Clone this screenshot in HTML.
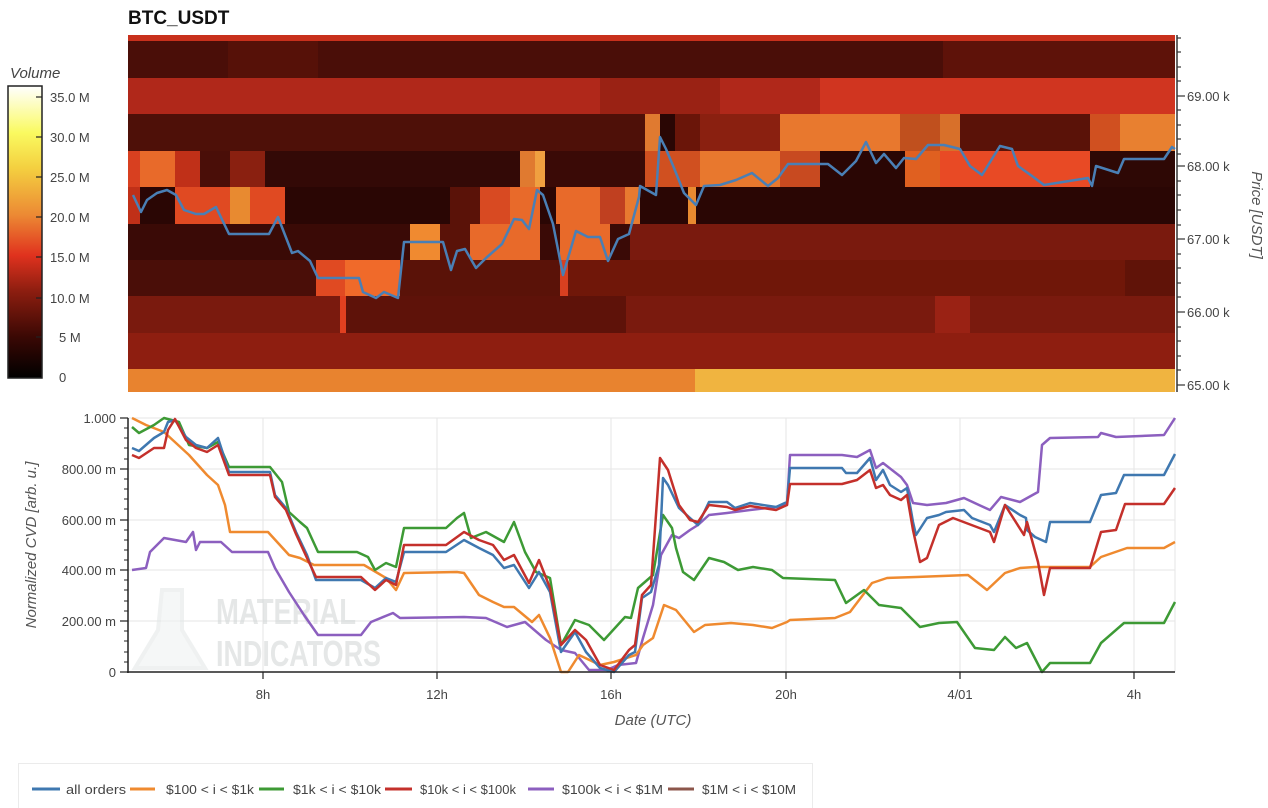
<!DOCTYPE html>
<html><head><meta charset="utf-8"><style>
html,body{margin:0;padding:0;background:#fff;}
svg{display:block;font-family:"Liberation Sans",sans-serif;}
</style></head><body>
<svg width="1268" height="808" viewBox="0 0 1268 808" xmlns="http://www.w3.org/2000/svg">
<defs>
<linearGradient id="cb" x1="0" y1="1" x2="0" y2="0">
<stop offset="0" stop-color="#000"/>
<stop offset="0.14" stop-color="#3a0804"/>
<stop offset="0.3" stop-color="#8e1e10"/>
<stop offset="0.42" stop-color="#e0321e"/>
<stop offset="0.56" stop-color="#ec8a34"/>
<stop offset="0.72" stop-color="#f4d040"/>
<stop offset="0.84" stop-color="#fafa60"/>
<stop offset="1" stop-color="#ffffff"/>
</linearGradient>
</defs>
<text x="128" y="24" font-size="19" font-weight="bold" fill="#111">BTC_USDT</text>

<g shape-rendering="crispEdges">
<rect x="128" y="35" width="1047" height="6" fill="#c8301c"/>
<rect x="128" y="41" width="1047" height="37" fill="#4a0e08"/>
<rect x="228" y="41" width="90" height="37" fill="#561108"/>
<rect x="943" y="41" width="232" height="37" fill="#5e1209"/>
<rect x="128" y="78" width="1047" height="36" fill="#b0281a"/>
<rect x="600" y="78" width="120" height="36" fill="#9a2214"/>
<rect x="820" y="78" width="355" height="36" fill="#d03520"/>
<rect x="128" y="114" width="1047" height="37" fill="#4e1008"/>
<rect x="645" y="114" width="15" height="37" fill="#e07a30"/>
<rect x="660" y="114" width="15" height="37" fill="#2a0604"/>
<rect x="675" y="114" width="25" height="37" fill="#6a1509"/>
<rect x="700" y="114" width="80" height="37" fill="#8a2010"/>
<rect x="780" y="114" width="120" height="37" fill="#e8782e"/>
<rect x="900" y="114" width="40" height="37" fill="#c0501e"/>
<rect x="940" y="114" width="20" height="37" fill="#d8702a"/>
<rect x="960" y="114" width="130" height="37" fill="#5a1208"/>
<rect x="1090" y="114" width="30" height="37" fill="#d05020"/>
<rect x="1120" y="114" width="55" height="37" fill="#e88030"/>
<rect x="128" y="151" width="12" height="36" fill="#d84020"/>
<rect x="140" y="151" width="35" height="36" fill="#e86a2a"/>
<rect x="175" y="151" width="25" height="36" fill="#c03018"/>
<rect x="200" y="151" width="30" height="36" fill="#4a0e08"/>
<rect x="230" y="151" width="35" height="36" fill="#8a2010"/>
<rect x="265" y="151" width="255" height="36" fill="#330906"/>
<rect x="520" y="151" width="15" height="36" fill="#e07a30"/>
<rect x="535" y="151" width="10" height="36" fill="#f0a040"/>
<rect x="545" y="151" width="100" height="36" fill="#3a0a06"/>
<rect x="645" y="151" width="55" height="36" fill="#d05020"/>
<rect x="700" y="151" width="80" height="36" fill="#e8782e"/>
<rect x="780" y="151" width="40" height="36" fill="#c84a20"/>
<rect x="820" y="151" width="85" height="36" fill="#2a0604"/>
<rect x="905" y="151" width="35" height="36" fill="#e06020"/>
<rect x="940" y="151" width="150" height="36" fill="#e84a25"/>
<rect x="1090" y="151" width="85" height="36" fill="#2e0805"/>
<rect x="128" y="187" width="1047" height="37" fill="#2a0604"/>
<rect x="128" y="187" width="12" height="37" fill="#c03018"/>
<rect x="175" y="187" width="55" height="37" fill="#e04a22"/>
<rect x="230" y="187" width="20" height="37" fill="#e88a30"/>
<rect x="250" y="187" width="35" height="37" fill="#e04a22"/>
<rect x="450" y="187" width="30" height="37" fill="#5a1208"/>
<rect x="480" y="187" width="30" height="37" fill="#d84a22"/>
<rect x="510" y="187" width="30" height="37" fill="#e86a2a"/>
<rect x="556" y="187" width="44" height="37" fill="#e86a2a"/>
<rect x="600" y="187" width="25" height="37" fill="#c04020"/>
<rect x="625" y="187" width="15" height="37" fill="#e87a30"/>
<rect x="688" y="187" width="8" height="37" fill="#e88a30"/>
<rect x="128" y="224" width="282" height="36" fill="#3a0a06"/>
<rect x="410" y="224" width="30" height="36" fill="#f08a30"/>
<rect x="440" y="224" width="30" height="36" fill="#5a1208"/>
<rect x="470" y="224" width="70" height="36" fill="#e86a2a"/>
<rect x="540" y="224" width="20" height="36" fill="#3a0a06"/>
<rect x="560" y="224" width="50" height="36" fill="#e86a2a"/>
<rect x="610" y="224" width="20" height="36" fill="#3a0a06"/>
<rect x="630" y="224" width="545" height="36" fill="#7a1a0e"/>
<rect x="128" y="260" width="188" height="36" fill="#4a0e08"/>
<rect x="316" y="260" width="29" height="36" fill="#e04a22"/>
<rect x="345" y="260" width="55" height="36" fill="#f06a2a"/>
<rect x="400" y="260" width="160" height="36" fill="#5a1208"/>
<rect x="560" y="260" width="8" height="36" fill="#d84020"/>
<rect x="568" y="260" width="557" height="36" fill="#701709"/>
<rect x="1125" y="260" width="50" height="36" fill="#601308"/>
<rect x="128" y="296" width="1047" height="37" fill="#7a1a0e"/>
<rect x="346" y="296" width="280" height="37" fill="#5e1209"/>
<rect x="340" y="296" width="6" height="37" fill="#e04020"/>
<rect x="935" y="296" width="35" height="37" fill="#9a2214"/>
<rect x="128" y="333" width="1047" height="36" fill="#8e1e10"/>
<rect x="128" y="369" width="567" height="23" fill="#e8832f"/>
<rect x="695" y="369" width="480" height="23" fill="#f0b440"/>
</g>
<polyline fill="none" stroke="#4a7fb5" stroke-width="2.5" stroke-linejoin="round" points="133,195 141,212 147,200 157,193 167,190 176,195 184,210 196,214 204,214 216,207 229,234 269,234 278,217 292,253 298,251 310,261 318,278 359,278 363,292 376,298 384,292 398,298 404,242 443,242 451,270 457,251 465,249 476,268 486,258 502,244 514,219 522,220 529,229 537,190 543,195 553,224 563,275 576,231 588,237 600,237 608,261 618,239 629,234 639,197 640,186 656,195 660,137 666,149 674,168 684,193 696,205 704,186 720,185 736,180 752,173 768,186 778,178 788,164 828,164 842,175 856,161 866,142 876,163 884,154 896,168 904,158 916,159 928,145 944,145 960,149 970,166 982,175 1000,146 1012,149 1018,166 1032,176 1044,185 1088,178 1092,186 1096,166 1118,173 1124,159 1164,159 1172,147 1175,149"/>

<line x1="1177" y1="35" x2="1177" y2="392" stroke="#333" stroke-width="1.5"/>
<g stroke="#333" stroke-width="1.2">
<line x1="1177" y1="96" x2="1185" y2="96"/><line x1="1177" y1="166" x2="1185" y2="166"/><line x1="1177" y1="239" x2="1185" y2="239"/><line x1="1177" y1="312" x2="1185" y2="312"/><line x1="1177" y1="385" x2="1185" y2="385"/>
<line x1="1177" y1="38" x2="1181" y2="38"/><line x1="1177" y1="52" x2="1181" y2="52"/><line x1="1177" y1="67" x2="1181" y2="67"/><line x1="1177" y1="81" x2="1181" y2="81"/>
<line x1="1177" y1="110" x2="1181" y2="110"/><line x1="1177" y1="125" x2="1181" y2="125"/><line x1="1177" y1="139" x2="1181" y2="139"/><line x1="1177" y1="154" x2="1181" y2="154"/>
<line x1="1177" y1="181" x2="1181" y2="181"/><line x1="1177" y1="195" x2="1181" y2="195"/><line x1="1177" y1="210" x2="1181" y2="210"/><line x1="1177" y1="225" x2="1181" y2="225"/>
<line x1="1177" y1="254" x2="1181" y2="254"/><line x1="1177" y1="268" x2="1181" y2="268"/><line x1="1177" y1="283" x2="1181" y2="283"/><line x1="1177" y1="297" x2="1181" y2="297"/>
<line x1="1177" y1="327" x2="1181" y2="327"/><line x1="1177" y1="341" x2="1181" y2="341"/><line x1="1177" y1="356" x2="1181" y2="356"/><line x1="1177" y1="370" x2="1181" y2="370"/>
</g>
<g font-size="13" fill="#444">
<text x="1187" y="101">69.00 k</text><text x="1187" y="171">68.00 k</text><text x="1187" y="244">67.00 k</text><text x="1187" y="317">66.00 k</text><text x="1187" y="390">65.00 k</text>
</g>
<text transform="translate(1252,215) rotate(90)" text-anchor="middle" font-size="15" font-style="italic" fill="#555">Price [USDT]</text>

<text x="10" y="78" font-size="15" font-style="italic" fill="#444">Volume</text>
<rect x="8" y="86" width="34" height="292" fill="url(#cb)" stroke="#222" stroke-width="1.5"/>
<g stroke="#222" stroke-width="1.2">
<line x1="36" y1="97" x2="42" y2="97"/><line x1="36" y1="137" x2="42" y2="137"/><line x1="36" y1="177" x2="42" y2="177"/><line x1="36" y1="217" x2="42" y2="217"/><line x1="36" y1="257" x2="42" y2="257"/><line x1="36" y1="298" x2="42" y2="298"/><line x1="36" y1="337" x2="42" y2="337"/>
</g>
<g font-size="13" fill="#444">
<text x="50" y="102">35.0 M</text><text x="50" y="142">30.0 M</text><text x="50" y="182">25.0 M</text><text x="50" y="222">20.0 M</text><text x="50" y="262">15.0 M</text><text x="50" y="303">10.0 M</text><text x="59" y="342">5 M</text><text x="59" y="382">0</text>
</g>

<g stroke="#e6e6e6" stroke-width="1">
<line x1="128" y1="418" x2="1175" y2="418"/><line x1="128" y1="469" x2="1175" y2="469"/><line x1="128" y1="520" x2="1175" y2="520"/><line x1="128" y1="570" x2="1175" y2="570"/><line x1="128" y1="621" x2="1175" y2="621"/>
<line x1="263" y1="418" x2="263" y2="672"/><line x1="437" y1="418" x2="437" y2="672"/><line x1="611" y1="418" x2="611" y2="672"/><line x1="786" y1="418" x2="786" y2="672"/><line x1="960" y1="418" x2="960" y2="672"/><line x1="1134" y1="418" x2="1134" y2="672"/>
<line x1="1175" y1="418" x2="1175" y2="672"/>
</g>
<g opacity="0.55">
<path d="M162,590 L182,590 L182,630 L205,668 L135,668 L158,630 Z" fill="#eef1f1" stroke="#e2e6e6" stroke-width="4"/>
<text x="216" y="624" font-size="36" font-weight="bold" fill="#d0d4d4" textLength="140" lengthAdjust="spacingAndGlyphs">MATERIAL</text>
<text x="216" y="666" font-size="36" font-weight="bold" fill="#d0d4d4" textLength="165" lengthAdjust="spacingAndGlyphs">INDICATORS</text>
</g>

<g fill="none" stroke-width="2.5" stroke-linejoin="round">
<polyline stroke="#8c5fbf" points="132,570 146,568 150,552 164,538 175,540 186,542 193,532 196,550 200,542 221,542 232,552 268,552 275,568 289,592 304,615 318,635 361,635 371,622 393,613 400,618 464,617 486,618 507,627 525,622 546,640 561,650 575,653 589,670 607,670 618,665 636,663 643,638 653,605 661,555 672,535 679,538 690,530 698,525 709,515 727,513 750,510 776,507 787,505 790,455 842,455 857,457 870,450 876,468 883,463 901,477 907,485 913,503 927,505 946,503 964,498 979,505 990,510 1001,497 1020,502 1038,492 1042,445 1050,438 1098,437 1101,433 1116,437 1164,435 1175,418"/>
<polyline stroke="#ef8a2f" points="132,418 146,425 164,432 189,455 207,475 218,485 225,505 230,532 268,532 289,555 300,558 314,565 364,565 386,578 396,590 404,573 457,572 464,573 479,595 493,602 504,607 514,607 532,622 539,615 550,638 561,672 568,672 579,655 600,665 614,662 636,655 643,645 653,638 664,605 676,610 694,632 705,625 731,623 753,625 772,628 787,622 790,620 835,618 850,612 872,583 887,578 916,577 968,575 987,590 1005,573 1020,568 1035,567 1090,567 1101,557 1127,548 1164,548 1175,542"/>
<polyline stroke="#3d9a35" points="132,427 139,433 154,425 164,418 179,422 189,445 207,448 218,442 229,467 270,467 282,482 289,512 300,522 307,528 318,552 357,552 368,557 375,570 386,563 396,567 404,528 446,528 457,518 464,513 471,538 486,532 504,542 514,522 525,552 536,572 550,578 561,645 575,620 589,625 604,640 625,617 631,618 638,588 653,575 663,515 672,528 676,548 683,572 694,580 709,558 724,562 738,570 753,567 772,570 783,578 835,580 846,603 864,590 879,605 901,608 920,627 939,623 957,622 975,648 994,650 1005,637 1016,648 1027,643 1042,672 1050,663 1090,663 1101,643 1124,623 1164,623 1175,602"/>
<polyline stroke="#3f78b0" points="132,448 139,451 154,438 164,432 168,422 175,420 186,437 196,445 207,448 218,438 229,472 270,472 275,495 286,508 296,532 307,555 316,580 361,580 375,588 386,578 396,582 404,552 446,552 464,540 479,548 493,555 504,568 514,565 529,588 539,572 550,592 561,652 575,632 586,652 600,668 614,672 629,655 635,652 642,598 651,592 659,565 663,478 668,485 679,508 690,518 698,525 709,502 727,502 735,508 750,503 776,507 787,502 790,468 842,468 846,473 857,473 870,458 876,480 883,470 890,485 901,492 907,488 913,522 916,535 927,518 939,515 946,512 964,510 972,518 990,525 994,532 1005,505 1020,515 1026,518 1027,530 1035,537 1046,542 1050,522 1090,522 1101,495 1116,493 1124,475 1164,475 1175,454"/>
<polyline stroke="#c4302b" points="132,455 139,458 154,448 164,448 168,430 175,419 186,440 196,448 207,452 218,445 229,475 270,475 275,497 286,510 296,534 307,558 316,577 361,577 375,590 386,580 396,585 404,545 446,545 464,532 479,540 493,545 504,560 514,555 529,583 539,560 550,588 561,645 575,630 586,640 600,665 614,670 629,650 635,645 642,595 651,585 660,458 668,470 679,505 690,520 698,522 709,505 727,507 735,510 750,506 776,510 787,505 790,484 842,484 857,480 870,470 876,488 883,485 890,495 901,500 907,495 913,530 920,562 927,558 939,525 953,518 990,532 994,542 1005,505 1024,535 1027,522 1038,562 1044,595 1050,568 1090,568 1101,532 1116,530 1125,504 1164,504 1175,488"/>
</g>

<line x1="128" y1="418" x2="128" y2="673" stroke="#222" stroke-width="1.5"/>
<line x1="127" y1="672" x2="1175" y2="672" stroke="#222" stroke-width="1.5"/>
<g stroke="#222" stroke-width="1.2">
<line x1="120" y1="418" x2="128" y2="418"/><line x1="120" y1="469" x2="128" y2="469"/><line x1="120" y1="520" x2="128" y2="520"/><line x1="120" y1="570" x2="128" y2="570"/><line x1="120" y1="621" x2="128" y2="621"/><line x1="120" y1="672" x2="128" y2="672"/>
<line x1="263" y1="672" x2="263" y2="679"/><line x1="437" y1="672" x2="437" y2="679"/><line x1="611" y1="672" x2="611" y2="679"/><line x1="786" y1="672" x2="786" y2="679"/><line x1="960" y1="672" x2="960" y2="679"/><line x1="1134" y1="672" x2="1134" y2="679"/>
</g>
<g stroke="#222" stroke-width="1">
<line x1="124" y1="428" x2="128" y2="428"/><line x1="124" y1="438" x2="128" y2="438"/><line x1="124" y1="448" x2="128" y2="448"/><line x1="124" y1="459" x2="128" y2="459"/>
<line x1="124" y1="479" x2="128" y2="479"/><line x1="124" y1="489" x2="128" y2="489"/><line x1="124" y1="499" x2="128" y2="499"/><line x1="124" y1="509" x2="128" y2="509"/>
<line x1="124" y1="530" x2="128" y2="530"/><line x1="124" y1="540" x2="128" y2="540"/><line x1="124" y1="550" x2="128" y2="550"/><line x1="124" y1="560" x2="128" y2="560"/>
<line x1="124" y1="580" x2="128" y2="580"/><line x1="124" y1="590" x2="128" y2="590"/><line x1="124" y1="601" x2="128" y2="601"/><line x1="124" y1="611" x2="128" y2="611"/>
<line x1="124" y1="631" x2="128" y2="631"/><line x1="124" y1="641" x2="128" y2="641"/><line x1="124" y1="652" x2="128" y2="652"/><line x1="124" y1="662" x2="128" y2="662"/>
</g>
<g font-size="13" fill="#444" text-anchor="end">
<text x="116" y="423">1.000</text><text x="116" y="474">800.00 m</text><text x="116" y="525">600.00 m</text><text x="116" y="575">400.00 m</text><text x="116" y="626">200.00 m</text><text x="116" y="677">0</text>
</g>
<g font-size="13" fill="#444" text-anchor="middle">
<text x="263" y="699">8h</text><text x="437" y="699">12h</text><text x="611" y="699">16h</text><text x="786" y="699">20h</text><text x="960" y="699">4/01</text><text x="1134" y="699">4h</text>
</g>
<text x="653" y="725" font-size="15" font-style="italic" fill="#555" text-anchor="middle">Date (UTC)</text>
<text transform="translate(36,545) rotate(-90)" font-size="15" font-style="italic" fill="#555" text-anchor="middle">Normalized CVD [arb. u.]</text>

<rect x="18.5" y="763.5" width="794" height="46" fill="#fff" stroke="#ebebeb"/>
<g stroke-width="3">
<line x1="32" y1="789" x2="60" y2="789" stroke="#3f78b0"/>
<line x1="130" y1="789" x2="155" y2="789" stroke="#ef8a2f"/>
<line x1="259" y1="789" x2="284" y2="789" stroke="#3d9a35"/>
<line x1="385" y1="789" x2="412" y2="789" stroke="#c4302b"/>
<line x1="528" y1="789" x2="554" y2="789" stroke="#8c5fbf"/>
<line x1="668" y1="789" x2="694" y2="789" stroke="#8c564b"/>
</g>
<g font-size="13" fill="#444">
<text x="66" y="794" textLength="60" lengthAdjust="spacingAndGlyphs">all orders</text>
<text x="166" y="794" textLength="88" lengthAdjust="spacingAndGlyphs">$100 &lt; i &lt; $1k</text>
<text x="293" y="794" textLength="88" lengthAdjust="spacingAndGlyphs">$1k &lt; i &lt; $10k</text>
<text x="420" y="794" textLength="96" lengthAdjust="spacingAndGlyphs">$10k &lt; i &lt; $100k</text>
<text x="562" y="794" textLength="101" lengthAdjust="spacingAndGlyphs">$100k &lt; i &lt; $1M</text>
<text x="702" y="794" textLength="94" lengthAdjust="spacingAndGlyphs">$1M &lt; i &lt; $10M</text>
</g>
</svg>
</body></html>
